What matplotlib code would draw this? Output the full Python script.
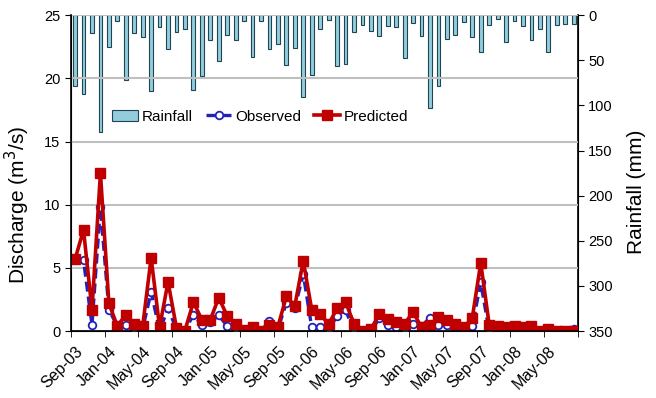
import matplotlib.pyplot as plt
import numpy as np

plt.rcParams['font.family'] = ['Liberation Sans', 'DejaVu Sans']

# Monthly series, Sep-03 .. Aug-08
observed = [5.7, 5.6, 0.5, 9.8, 1.7, 0.4, 0.5, 0.2, 0.2, 3.1,
            0.05, 1.8, 0.15, 0.05, 1.3, 0.45, 0.7, 1.25, 0.4, 0.1,
            0.05, 0.05, 0.02, 0.8, 0.15, 2.25, 1.85, 4.5, 0.3, 0.35,
            0.05, 1.2, 1.65, 0.1, 0.0, 0.0, 1.0, 0.5, 0.3, 0.1,
            0.6, 0.4, 1.05, 0.5, 0.45, 0.3, 0.1, 0.4, 3.85, 0.0,
            0.0, 0.0, 0.0, 0.0, 0.0, 0.0, 0.0, 0.0, 0.0, 0.15]
predicted = [5.7, 8.0, 1.7, 12.5, 2.2, 0.4, 1.3, 0.55, 0.4, 5.8,
             0.3, 3.9, 0.25, 0.05, 2.3, 0.9, 0.9, 2.65, 1.2, 0.55,
             0.1, 0.35, 0.0, 0.5, 0.35, 2.75, 2.0, 5.55, 1.7, 1.35,
             0.55, 1.8, 2.3, 0.6, 0.05, 0.15, 1.35, 0.95, 0.7, 0.6,
             1.5, 0.3, 0.5, 1.1, 0.9, 0.55, 0.3, 1.05, 5.4, 0.5,
             0.4, 0.35, 0.4, 0.35, 0.4, 0.05, 0.2, 0.0, 0.0, 0.0]
rainfall = [78, 87, 20, 130, 35, 6, 72, 20, 24, 84,
            13, 37, 19, 15, 83, 67, 27, 51, 22, 28,
            7, 46, 7, 37, 32, 55, 36, 91, 66, 15,
            5, 56, 54, 19, 11, 18, 23, 12, 13, 47,
            9, 23, 103, 79, 26, 22, 8, 24, 41, 11,
            4, 30, 7, 12, 28, 15, 41, 11, 10, 10]
tick_labels = ['Sep-03', 'Jan-04', 'May-04', 'Sep-04', 'Jan-05', 'May-05',
               'Sep-05', 'Jan-06', 'May-06', 'Sep-06', 'Jan-07', 'May-07',
               'Sep-07', 'Jan-08', 'May-08']

x = np.arange(len(observed))

fig = plt.figure(figsize=(6.56, 3.98), dpi=100)
ax = fig.add_axes([0.108, 0.168, 0.773, 0.794])
ax2 = ax.twinx()
ax.set_zorder(ax2.get_zorder() + 1)
ax.patch.set_visible(False)

# rainfall hangs from the top on an inverted right axis
bars = ax2.bar(x, rainfall, width=0.45, color='#93CDDD', edgecolor='#1F4550',
               linewidth=0.8, label='Rainfall')
ax2.set_ylim(350, 0)
ax2.set_yticks(np.arange(0, 351, 50))
ax2.set_ylabel('Rainfall (mm)', fontsize=15)
ax2.yaxis.set_label_coords(1.096, 0.44)

obs_line, = ax.plot(x, observed, color='#2222BB', ls=(0, (3, 1.5)), lw=2.4,
                    marker='o', ms=5.5, mfc='white', mec='#2222BB', mew=1.3,
                    label='Observed')
pred_line, = ax.plot(x, predicted, color='#C00000', lw=2.6, marker='s', ms=6.5,
                     mfc='#C00000', mec='#C00000', label='Predicted')

ax.set_ylim(0, 25)
ax.set_yticks(np.arange(0, 26, 5))
ax.set_xlim(-0.5, len(x) - 0.5)
ax.yaxis.grid(True, color='#BFBFBF', lw=1.5)
ax.set_ylabel('Discharge (m$^3$/s)', fontsize=15)
ax.yaxis.set_label_coords(-0.076, 0.40)

ax.set_xticks(x[::4])
ax.set_xticklabels(tick_labels, rotation=45, ha='right', rotation_mode='anchor')
ax.set_xticks(np.arange(-0.5, len(x), 4), minor=True)
ax.tick_params(axis='x', which='major', length=0, pad=9, labelsize=11.5)
ax.tick_params(axis='x', which='minor', length=4, direction='out')
ax.tick_params(axis='y', labelsize=10.5, length=4)
ax2.tick_params(axis='y', labelsize=10.5, length=4)

for a in (ax, ax2):
    a.spines['top'].set_visible(False)
ax.spines['left'].set_linewidth(1.2)
ax2.spines['right'].set_linewidth(1.2)
ax.spines['bottom'].set_linewidth(1.2)

ax.legend([bars, obs_line, pred_line], ['Rainfall', 'Observed', 'Predicted'],
          loc='upper left', bbox_to_anchor=(0.07, 0.72), ncol=3, frameon=False,
          fontsize=11, handlelength=1.7, handletextpad=0.2, columnspacing=0.88,
          borderaxespad=0)

fig.savefig('out.png', dpi=100)
